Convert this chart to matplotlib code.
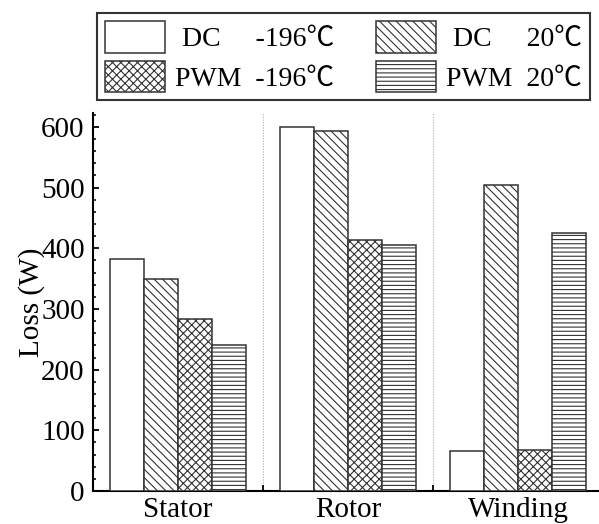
import matplotlib
matplotlib.use("Agg")
import matplotlib.pyplot as plt
import numpy as np
from matplotlib.ticker import MultipleLocator

plt.rcParams['font.family'] = ['Liberation Serif', 'Noto Sans CJK SC', 'DejaVu Sans']
plt.rcParams['hatch.linewidth'] = 0.8

# Loss components
components = ["Stator", "Rotor", "Winding"]
series_labels = [" DC     -196℃", " DC     20℃", "PWM  -196℃", "PWM  20℃"]
dc_cryo = [382, 600, 66]      # DC, -196 ℃
dc_room = [349, 593, 504]     # DC, 20 ℃
pwm_cryo = [283, 414, 67]     # PWM, -196 ℃
pwm_room = [241, 405, 425]    # PWM, 20 ℃

series = [dc_cryo, dc_room, pwm_cryo, pwm_room]
hatches = [None, "\\\\\\\\", "xxxx", "----"]

fig = plt.figure(figsize=(5.99, 5.24), dpi=100)
ax = fig.add_axes([93 / 599, 1 - 491 / 524, 1 - 93 / 599, (491 - 113) / 524])

x = np.arange(len(components))
width = 0.2
offsets = [-0.3, -0.1, 0.1, 0.3]
handles = []
for vals, off, h, lab in zip(series, offsets, hatches, series_labels):
    b = ax.bar(x + off, vals, width, facecolor="white", edgecolor="#333333",
               linewidth=1.1, hatch=h, label=lab, zorder=3)
    handles.append(b)

# group separators
for sep in (0.5, 1.5):
    ax.axvline(sep, color="#bbbbbb", linestyle=(0, (1.2, 1.2)), linewidth=0.8, zorder=1)

ax.set_xlim(-0.5, -0.5 + (599 - 93) / 170)
ax.set_ylim(0, 623)

ax.spines["top"].set_visible(False)
ax.spines["right"].set_visible(False)
ax.spines["left"].set_linewidth(1.5)
ax.spines["bottom"].set_linewidth(1.5)

ax.yaxis.set_major_locator(MultipleLocator(100))
ax.yaxis.set_minor_locator(MultipleLocator(20))
ax.tick_params(axis="y", which="major", direction="in", length=4, width=1.3,
               labelsize=21, pad=6)
ax.tick_params(axis="y", which="minor", direction="in", length=2.5, width=1.1)

ax.set_xticks([0.5, 1.5])
ax.set_xticklabels([])
ax.set_xticks(x, minor=True)
ax.set_xticklabels(components, minor=True)
ax.tick_params(axis="x", which="major", direction="in", length=4, width=1.3)
ax.tick_params(axis="x", which="minor", length=0, labelsize=21, pad=4)

ax.set_ylabel("Loss (W)", fontsize=21, labelpad=-3)

# legend entries ordered so that rows read DC / PWM
order = [0, 2, 1, 3]
fig.legend(handles=[handles[i] for i in order],
           labels=[series_labels[i] for i in order], ncol=2, loc="upper left",
           bbox_to_anchor=(97 / 599, 1 - 97 / 524, (590 - 97) / 599, (97 - 13) / 524),
           mode="expand", frameon=True, fancybox=False, edgecolor="black",
           fontsize=20, handlelength=2.15, handleheight=1.35, handletextpad=0.35,
           borderpad=0.3, labelspacing=0.3, columnspacing=1.0, borderaxespad=0)
fig.legends[0].get_frame().set_linewidth(1.5)

fig.savefig("out.png", dpi=100)
